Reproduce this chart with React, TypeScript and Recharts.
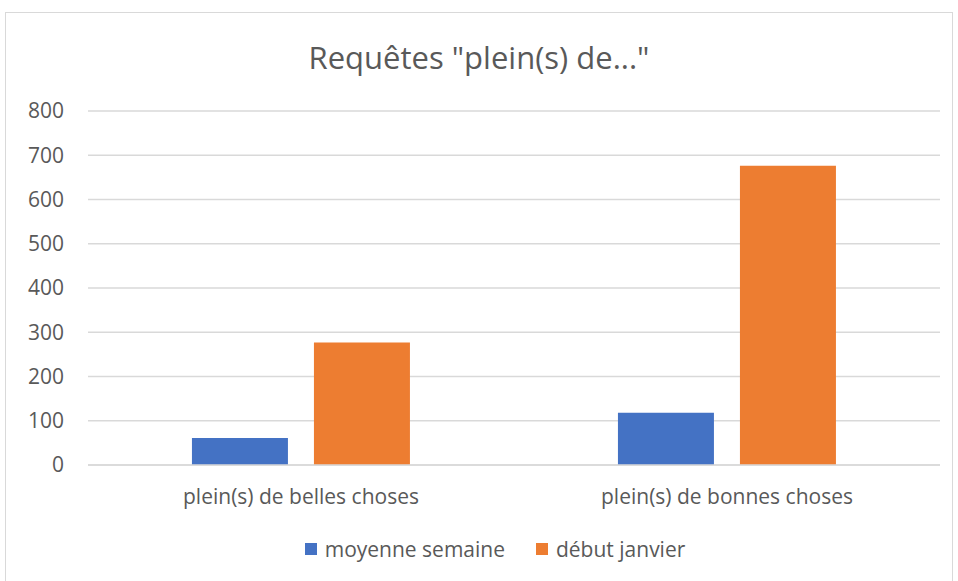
import React from 'react';
import { BarChart, Bar, XAxis, YAxis, CartesianGrid } from 'recharts';

const categories = ['plein(s) de belles choses', 'plein(s) de bonnes choses'];
const moyenneSemaine = [61, 118];
const debutJanvier = [277, 676];
const yTicks = [0, 100, 200, 300, 400, 500, 600, 700, 800];
const series = [
  { key: 'moyenne', name: 'moyenne semaine', color: '#4472C4' },
  { key: 'debut', name: 'début janvier', color: '#ED7D31' },
];

const data = categories.map((name, i) => ({
  name,
  moyenne: moyenneSemaine[i],
  debut: debutJanvier[i],
}));

const FONT = '"Open Sans", sans-serif';
const TEXT = '#595959';

export default function App() {
  return (
    <div style={{ position: 'absolute', left: 0, top: 0, width: 958, height: 581, background: '#fff', overflow: 'hidden' }}>
      <div
        style={{
          position: 'absolute',
          left: 5,
          top: 12,
          width: 948,
          height: 600,
          border: '1px solid #d9d9d9',
          boxSizing: 'border-box',
        }}
      />
      <div
        style={{
          position: 'absolute',
          left: 0,
          width: 958,
          top: 36,
          textAlign: 'center',
          fontFamily: FONT,
          fontSize: 31,
          color: TEXT,
          lineHeight: '42px',
        }}
      >
        Requêtes "plein(s) de..."
      </div>
      <div style={{ position: 'absolute', left: 0, top: 0 }}>
        <BarChart
          width={958}
          height={581}
          data={data}
          margin={{ top: 111, right: 18, left: 0, bottom: 0 }}
          barGap={26}
          barCategoryGap="24.4%"
        >
          <CartesianGrid vertical={false} stroke="#d9d9d9" strokeWidth={1.3} />
          <XAxis
            dataKey="name"
            height={116}
            axisLine={{ stroke: '#d9d9d9', strokeWidth: 1.3 }}
            tickLine={false}
            tickSize={0}
            tickMargin={24}
            tick={{ fill: TEXT, fontSize: 21, fontFamily: FONT }}
          />
          <YAxis
            width={88}
            domain={[0, 800]}
            ticks={yTicks}
            axisLine={false}
            tickLine={false}
            tickSize={0}
            tickMargin={24}
            tick={{ fill: TEXT, fontSize: 21, fontFamily: FONT }}
          />
          {series.map((s) => (
            <Bar key={s.key} dataKey={s.key} name={s.name} fill={s.color} isAnimationActive={false} />
          ))}
        </BarChart>
      </div>
      <div
        style={{
          position: 'absolute',
          left: 16,
          width: 958,
          top: 534,
          display: 'flex',
          justifyContent: 'center',
          fontFamily: FONT,
          fontSize: 21,
          color: TEXT,
          lineHeight: '30px',
        }}
      >
        {series.map((s, index) => (
          <div key={s.key} style={{ display: 'flex', alignItems: 'center', marginLeft: index ? 31 : 0 }}>
            <span style={{ width: 12, height: 12, background: s.color, display: 'inline-block', marginRight: 8 }} />
            <span>{s.name}</span>
          </div>
        ))}
      </div>
    </div>
  );
}
